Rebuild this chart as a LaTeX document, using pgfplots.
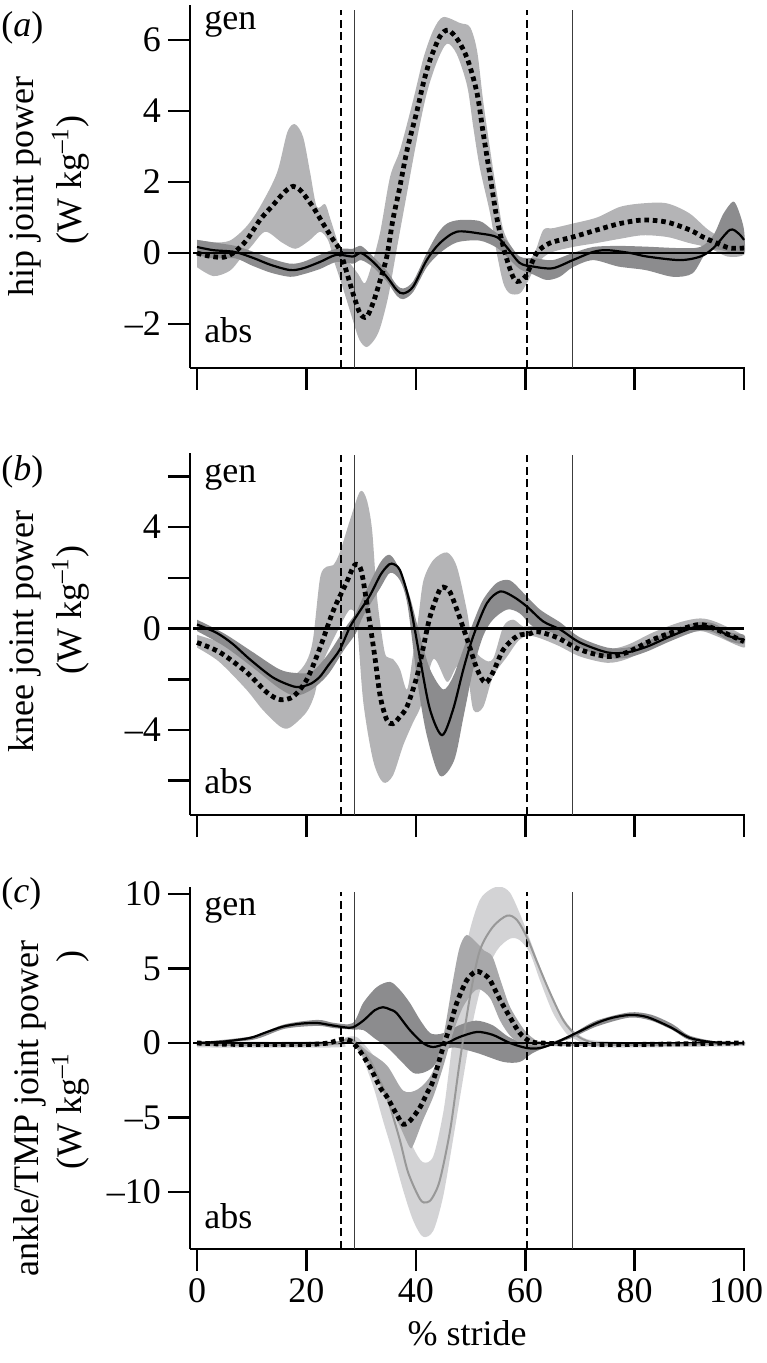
\documentclass[border=0pt]{standalone}
\usepackage{fontspec}
\setmainfont{Liberation Serif}
\usepackage{pgfplots}
\pgfplotsset{compat=1.18}
\definecolor{bandL}{RGB}{180,180,182}
\definecolor{bandD}{RGB}{140,140,142}
\definecolor{bandLL}{RGB}{211,211,213}
\definecolor{bandM}{RGB}{168,168,170}
\definecolor{grayline}{RGB}{152,152,152}
\definecolor{vline}{RGB}{60,60,60}
\newcommand{\fs}{\fontsize{18}{21}\selectfont}
\pgfplotsset{
  panel/.style={
    scale only axis, width=277.5pt,
    xmin=-1.28, xmax=100.18,
    axis x line*=bottom, axis y line*=left,
    axis line style={line width=1.3pt,-},
    xtick={0,20,40,60,80,100},
    tick align=outside, major tick length=11pt,
    tick style={line width=1.3pt, black},
    tick label style={font=\fs},
    /pgf/number format/assume math mode=true,
  },
  dotline/.style={black, line width=2.4pt, dash pattern=on 2.3pt off 1.9pt, smooth, tension=0.5},
  solidline/.style={black, line width=1.1pt, smooth, tension=0.5},
  grline/.style={grayline, line width=1.0pt, smooth, tension=0.5},
  bnd/.style={draw=none, fill=#1, smooth, tension=0.5},
  zeroline/.style={black, line width=1.3pt},
  vdash/.style={black, line width=0.7pt, dash pattern=on 4pt off 2.3pt},
  vsolid/.style={vline, line width=0.7pt},
}
\begin{document}
\begin{tikzpicture}
\path[use as bounding box] (0,0) rectangle (383pt,-681.5pt);

% ---------------- panel (a) ----------------
\begin{axis}[panel, at={(95pt,-2.5pt)}, anchor=north west, height=181.5pt,
  ymin=-3.24, ymax=6.99, ytick={-2,0,2,4,6}, yticklabels={–2,0,2,4,6},
  xticklabels={}]
\addplot[bnd=bandL] coordinates {(0,0.37) (3,0.3) (6,0.35) (9,0.74) (11.5,1.3) (14.6,2.25) (16.5,3.4) (17.9,3.63) (19.4,3.27) (20.7,2.25) (21.9,1.3) (23.4,1.38) (24.3,1.0) (25.6,0.37) (26.7,-0.1) (28,-0.3) (29.5,-0.6) (30.7,-0.85) (32,-0.3) (33.5,0.6) (35.3,2.15) (37.1,2.9) (39.5,4.3) (41.4,5.5) (43.2,6.28) (45,6.65) (48.1,6.48) (49.9,6.37) (51.2,5.7) (52.3,4.3) (53.6,2.9) (54.8,1.7) (56,0.65) (58.1,0.0) (59.9,-0.3) (61.7,0.0) (63.3,0.65) (65.1,0.7) (68.7,0.83) (73.1,1.0) (77.3,1.3) (81.5,1.4) (85.9,1.4) (90,1.12) (93.5,0.65) (97,0.35) (100,0.3)
 (100,-0.05) (97,-0.1) (93.5,0.15) (90,0.28) (86,0.45) (81.5,0.5) (77.3,0.4) (73,0.28) (68.7,0.17) (64.5,0.0) (62.2,-0.3) (60.3,-0.85) (59,-1.14) (57.2,-1.14) (56,-0.85) (54.8,0) (53.6,1.1) (51.7,2.4) (50.5,3.55) (49.4,4.7) (47.5,5.6) (45.7,5.9) (43.9,5.4) (42,4.5) (40.2,3.2) (38.4,1.7) (36.5,0.1) (35,-1.2) (33.5,-2.1) (32.4,-2.45) (31,-2.65) (29.7,-2.45) (28.5,-1.9) (26.7,-1.0) (25,-0.2) (24,0.35) (22.5,0.6) (20.5,0.35) (18,0.12) (15.5,0.3) (12.5,0.6) (10,0.2) (8,-0.15) (6,-0.5) (3,-0.65) (0,-0.4)};
\addplot[bnd=bandD] coordinates {(0,0.37) (3,0.3) (7,0.2) (10,0.05) (13.4,-0.15) (17,-0.3) (19.4,-0.25) (22.5,-0.05) (25.5,0.12) (28.5,0.12) (30,0.2) (32.2,-0.1) (34.7,-0.5) (36.5,-0.9) (37.7,-1.0) (39.5,-0.8) (42,0.0) (44,0.55) (45.7,0.83) (48,0.93) (51.7,0.9) (54,0.65) (56.6,0.35) (59,-0.1) (62,-0.15) (65,-0.2) (68.7,0.0) (72.4,0.17) (77,0.2) (82,0.18) (88,0.14) (92,0.17) (94.4,0.5) (96.2,1.1) (98,1.45) (99,1.2) (100,0.65)
 (100,0.0) (98,0.0) (95,0.1) (93,0.0) (90.6,-0.57) (87,-0.67) (82,-0.48) (77,-0.38) (72.4,-0.2) (68.7,-0.4) (66.3,-0.67) (63.9,-0.76) (61.4,-0.6) (59,-0.45) (56.6,-0.1) (54.8,0.15) (51.7,0.35) (47.5,0.3) (44.4,0.0) (42,-0.4) (39.5,-1.1) (37.7,-1.3) (36.5,-1.2) (34.7,-0.8) (32.2,-0.4) (30,-0.2) (28.5,-0.3) (25.5,-0.25) (22.5,-0.45) (19.4,-0.6) (17,-0.67) (13.4,-0.55) (10,-0.35) (7,-0.15) (3,-0.15) (0,-0.05)};
\addplot[zeroline] coordinates {(-0.7,0) (100,0)};
\addplot[vdash] coordinates {(26.3,-3.24) (26.3,6.85)};
\addplot[vsolid] coordinates {(28.8,-3.24) (28.8,6.85)};
\addplot[vdash] coordinates {(60.3,-3.24) (60.3,6.85)};
\addplot[vsolid] coordinates {(68.6,-3.24) (68.6,6.85)};
\addplot[solidline] coordinates {(0,0.17) (3,0.08) (6.9,0.03) (10.3,-0.14) (13.4,-0.33) (17,-0.48) (19.4,-0.43) (22.5,-0.25) (25.5,-0.05) (28.5,-0.1) (30,0.0) (32.2,-0.25) (34.7,-0.67) (36.5,-1.04) (37.7,-1.14) (39.5,-0.95) (42,-0.2) (44.4,0.28) (47.5,0.6) (51.7,0.55) (54.8,0.45) (56.6,0.17) (59,-0.28) (61.4,-0.38) (65,-0.43) (68.7,-0.2) (72.4,0.03) (75,0.08) (79.2,0.0) (82.3,-0.1) (88.3,-0.2) (92,-0.1) (94.4,0.14) (97.4,0.65) (99,0.55) (100,0.37)};
\addplot[dotline] coordinates {(0,0.0) (2,-0.08) (4.8,-0.12) (6.9,0.03) (9.1,0.37) (11.5,0.93) (13.9,1.35) (16,1.72) (17.6,1.88) (19,1.75) (21.2,1.3) (23,0.84) (24.9,0.37) (26.1,0.08) (27.4,-0.56) (28.5,-1.13) (29.8,-1.7) (31,-1.8) (32.2,-1.4) (33.5,-0.76) (34.7,-0.1) (35.8,0.93) (37,1.8) (38.4,2.9) (40.2,4.0) (41.4,4.8) (42.6,5.44) (44.4,6.1) (45.9,6.28) (47.7,6.0) (49.5,5.44) (51.2,4.5) (52.3,3.4) (53.6,2.15) (54.8,1.0) (56.3,0) (58.1,-0.76) (60,-0.67) (62.1,0) (64.5,0.28) (68.7,0.45) (73.1,0.65) (77.3,0.83) (81.5,0.93) (85.9,0.87) (90.1,0.65) (92.5,0.45) (95,0.28) (97.4,0.14) (100,0.14)};
\end{axis}

% ---------------- panel (b) ----------------
\begin{axis}[panel, at={(95pt,-226.5pt)}, anchor=north west, height=181pt,
  ymin=-7.35, ymax=6.92, ytick={-6,-4,-2,0,2,4,6}, yticklabels={{},–4,{},0,{},4,{}},
  xticklabels={}]
\addplot[bnd=bandL] coordinates {(0,-0.25) (5,-0.6) (10,-1.1) (15,-1.9) (18,-1.8) (20,-1.3) (21.2,-0.43) (22.5,2.0) (23.7,2.44) (24.9,2.5) (26.1,3.0) (28,4.3) (29.8,5.4) (31,5.1) (32,3.9) (32.9,1.26) (34,-0.55) (34.6,-1.1) (35.8,-1.2) (37.1,-1.6) (38.4,-2.4) (39.5,-1.0) (40.5,0.5) (41.4,1.9) (43.2,2.7) (45.7,3.0) (47.5,2.44) (49.3,0.75) (50.5,-0.7) (52.3,-1.2) (54.1,-1.2) (56,0.08) (57.8,0.35) (59.6,0.08) (61.4,0.1) (65.8,-0.05) (70,-0.55) (75,-0.8) (78.6,-0.65) (83.4,-0.15) (88.3,0.25) (92,0.4) (95,0.25) (100,-0.3)
 (100,-0.75) (95,-0.3) (92,-0.1) (88.3,-0.3) (83.4,-0.7) (78.6,-1.2) (75,-1.35) (70,-1.1) (65.8,-0.65) (61.4,-0.3) (59,-0.43) (56.7,-1.1) (54.1,-1.9) (52.3,-3.1) (50.5,-3.2) (49.3,-1.6) (47.5,-1.5) (45.7,-2.1) (43.2,-1.2) (41,-3.0) (39.5,-3.7) (37.7,-4.6) (35.8,-5.8) (34,-6.06) (32.2,-5.2) (30.4,-2.9) (29.2,0.24) (28,0.75) (26.1,0.08) (24.3,-0.7) (22.5,-1.6) (21.5,-2.6) (20,-3.3) (17,-3.9) (15.2,-3.86) (12,-3.2) (9,-2.4) (4,-1.3) (0,-0.75)};
\addplot[bnd=bandD] coordinates {(0,0.35) (5,-0.2) (10,-0.9) (15,-1.6) (18,-1.75) (21,-1.7) (24,-1.0) (27,0.0) (29,0.6) (30.4,1.26) (33.5,2.6) (35.3,2.9) (37.1,2.3) (38.9,1.26) (40.8,-0.3) (42.6,-1.6) (45,-2.4) (46.8,-1.9) (48.7,-0.8) (50.5,0.24) (52.3,1.14) (54.8,1.8) (57.2,1.9) (59.6,1.42) (62.7,0.75) (66.4,0.24) (70,-0.35) (75,-0.75) (78.6,-0.75) (82.3,-0.5) (86.5,-0.1) (91.4,0.25) (94.4,0.2) (97.4,-0.15) (100,-0.25)
 (100,-0.6) (97.4,-0.5) (94.4,-0.15) (91.4,-0.1) (86.5,-0.5) (82.3,-0.9) (78.6,-1.15) (75,-1.15) (70,-0.75) (65,-0.16) (61.4,0.08) (59,0.6) (56.7,0.75) (54.1,0.35) (52.3,-0.3) (50.5,-1.6) (48.7,-3.5) (47,-5.2) (44.4,-5.8) (42,-4.2) (40.3,-2.1) (38.5,0.9) (37.1,1.9) (35.3,2.2) (33.5,1.6) (30.4,0.5) (29,-0.2) (27,-0.8) (24,-1.8) (21,-2.4) (18,-2.65) (15,-2.35) (10,-1.5) (5,-0.7) (0,-0.1)};
\addplot[zeroline] coordinates {(-0.7,0) (100,0)};
\addplot[vdash] coordinates {(26.3,-7.35) (26.3,6.84)};
\addplot[vsolid] coordinates {(28.8,-7.35) (28.8,6.84)};
\addplot[vdash] coordinates {(60.3,-7.35) (60.3,6.84)};
\addplot[vsolid] coordinates {(68.6,-7.35) (68.6,6.84)};
\addplot[solidline] coordinates {(0,0.16) (3.6,-0.17) (6.5,-0.6) (9.7,-1.22) (13.9,-1.93) (17.6,-2.28) (19.3,-2.28) (21,-2.15) (22.5,-1.89) (24,-1.45) (26.1,-0.83) (28,0.08) (29.8,0.7) (31.6,1.3) (33.5,2.1) (34.7,2.44) (35.6,2.56) (37.1,2.3) (38.9,1.0) (40.8,-1.22) (42.6,-3.2) (44.8,-4.2) (46.8,-3.2) (48.7,-1.6) (50.5,-0.3) (53,1.0) (55.4,1.46) (57.8,1.26) (60.3,0.87) (63.3,0.28) (66.4,-0.04) (70,-0.55) (75,-0.94) (78.6,-0.94) (82.3,-0.71) (86.5,-0.31) (91.4,0.08) (94.4,0.04) (97.4,-0.31) (100,-0.43)};
\addplot[dotline] coordinates {(0,-0.55) (4.2,-0.94) (9.1,-1.73) (12.8,-2.52) (15.2,-2.8) (17.6,-2.68) (20.1,-2.0) (22.5,-0.75) (24.9,0.7) (27.3,1.8) (28.8,2.5) (30,2.3) (31.3,0.63) (32.5,-1.1) (33.5,-2.68) (34.7,-3.6) (35.8,-3.75) (37,-3.5) (38.4,-3.07) (40.2,-1.89) (41.4,-0.71) (42.6,0.47) (44.4,1.54) (45.5,1.6) (46.3,1.42) (47.5,0.75) (49.4,-0.43) (51.2,-1.6) (52.7,-2.13) (54.1,-1.73) (56,-0.83) (58.5,-0.3) (60.9,-0.2) (62.2,-0.12) (65.8,-0.35) (70,-0.83) (75,-1.1) (78.6,-0.94) (83.4,-0.43) (88.3,-0.04) (92,0.16) (95,-0.04) (100,-0.51)};
\end{axis}

% ---------------- panel (c) ----------------
\begin{axis}[panel, at={(95pt,-443.5pt)}, anchor=north west, height=181pt,
  ymin=-13.83, ymax=10.47, ytick={-10,-5,0,5,10}, yticklabels={–10,–5,0,5,10},
  xticklabels={0,20,40,60,80,{\hspace*{-8pt}100}}]
\addplot[bnd=bandLL] coordinates {(0,0.1) (25,0.1) (27.4,0.4) (29.2,0.4) (31,-0.27) (32.9,-1.2) (34.7,-2.8) (37.1,-4.8) (39.5,-7.0) (41.3,-8.0) (43.2,-7.6) (45,-4.7) (46,-2.0) (47,1.0) (48,4.2) (49.9,7.6) (51.7,9.6) (53.6,10.3) (55.4,10.5) (57.2,10.1) (59,8.7) (60.9,6.9) (62.7,5.1) (65.1,2.9) (67.6,1.34) (69.4,0.67) (72,0.2) (80,0.05) (100,0.05)
 (100,-0.2) (80,-0.3) (72,-0.25) (69.4,0.2) (67.6,0.6) (65.1,2.0) (62.7,4.2) (60.9,6.0) (59,6.9) (57.2,7.0) (54.8,6.2) (52.3,4.2) (50.5,1.54) (48.6,-2.5) (46.8,-6.5) (45,-10.3) (43.2,-12.6) (41.3,-13.0) (39.5,-11.9) (37.7,-9.9) (35.8,-7.4) (34,-5.2) (32.2,-2.9) (30,-0.8) (28.5,0.0) (27,-0.1) (25,-0.3) (0,-0.3)};
\addplot[bnd=bandD] coordinates {(0,0.05) (10,0.45) (16,1.25) (22,1.55) (25,1.35) (28.5,1.34) (30.4,2.7) (32.9,3.76) (35.3,4.1) (37.1,3.56) (38.9,2.7) (40.8,1.54) (42.6,0.67) (44.4,0.6) (46,0.8) (48,1.2) (51,1.5) (54,1.2) (57,0.4) (60,0.0) (63,-0.05) (66,0.2) (69,0.7) (73,1.5) (79,2.05) (83,1.9) (87,1.25) (90,0.5) (95,0.1) (100,0.05)
 (100,-0.05) (95,-0.05) (90,0.2) (87,0.85) (83,1.5) (79,1.7) (73,1.1) (68.6,0.35) (65,-0.1) (61.4,-0.67) (59,-1.27) (56,-1.27) (51.2,-0.67) (47,-0.3) (45,-0.6) (43.2,-1.6) (41.3,-2.0) (39.5,-2.0) (37.1,-1.14) (34.7,-0.27) (32.5,0.3) (30.4,0.87) (28.5,0.9) (25,1.0) (22,1.15) (16,0.95) (10,0.2) (0,-0.05)};
\addplot[bnd=bandM] coordinates {(0,0.05) (25,0.1) (27,0.35) (28.5,0.3) (31,-0.5) (34.7,-1.5) (37.7,-3.2) (40.4,-3.1) (43,-2.0) (45,0.4) (46.8,4.2) (48,6.4) (49.3,7.25) (51.2,6.7) (52.5,6.2) (54,5.8) (55.5,4.2) (57,2.6) (58.5,1.6) (60,0.8) (61.5,0.3) (63,0.1) (70,0.05) (100,0.05)
 (100,-0.1) (70,-0.2) (63,-0.2) (61,-0.15) (59,0.0) (57.2,0.5) (55.4,1.5) (53.6,3.0) (51.7,3.6) (50.5,3.4) (48.6,2.4) (46.8,0.67) (45,-1.6) (43.2,-3.6) (41.3,-5.2) (39.6,-6.8) (38.9,-7.0) (37.1,-5.6) (34.7,-3.8) (31.6,-1.6) (28.5,-0.1) (27,0.1) (25,-0.15) (0,-0.15)};
\addplot[zeroline] coordinates {(-0.7,0) (100,0)};
\addplot[vdash] coordinates {(26.3,-13.83) (26.3,10.15)};
\addplot[vsolid] coordinates {(28.8,-13.83) (28.8,10.15)};
\addplot[vdash] coordinates {(60.3,-13.83) (60.3,10.15)};
\addplot[vsolid] coordinates {(68.6,-13.83) (68.6,10.15)};
\addplot[grline] coordinates {(0,-0.1) (10,-0.15) (20,-0.15) (25,-0.05) (27,0.2) (28.5,0.1) (30,-0.4) (31.6,-1.14) (33,-2.2) (34.7,-3.6) (37,-6.4) (38.6,-8.7) (40.8,-10.5) (42,-10.7) (43,-10.4) (44.4,-9.2) (46.3,-5.8) (48,-1.34) (49.9,3.1) (51.7,6.2) (54.1,7.8) (56.7,8.55) (58.5,8.25) (60.3,7.1) (62.2,5.4) (64.5,3.4) (67,1.5) (69.4,0.5) (72,0.05) (75,-0.1) (80,-0.15) (90,-0.1) (100,-0.05)};
\addplot[solidline] coordinates {(0,0) (5,0.1) (9.7,0.34) (12.5,0.7) (15.7,1.1) (19,1.3) (22,1.34) (24.4,1.2) (27,1.05) (28.5,1.05) (30.4,1.5) (32.5,2.2) (34,2.4) (35.3,2.25) (36.5,2.0) (38.9,0.87) (41.3,0.0) (43.2,-0.27) (45.7,0.0) (48,0.4) (51.2,0.74) (54.1,0.54) (57.2,0.0) (60.3,-0.34) (62.7,-0.34) (65.1,-0.05) (68.6,0.54) (73.1,1.34) (76,1.7) (79.2,1.88) (82.3,1.74) (86.5,1.07) (90.1,0.34) (94.4,0.05) (100,0)};
\addplot[dotline] coordinates {(0,0) (5,-0.08) (10,-0.1) (20,-0.1) (24,0.0) (26.5,0.25) (28,0.15) (29.5,-0.4) (31.6,-1.6) (33.5,-3.0) (34.7,-3.6) (36.5,-4.8) (37.7,-5.45) (39,-5.2) (40.8,-4.3) (42,-3.4) (43.2,-2.5) (45,-0.27) (46.2,1.07) (47.5,2.7) (49.3,4.2) (51,4.8) (52.5,4.6) (53.6,4.2) (55.4,2.9) (57.2,1.74) (59,0.67) (60.9,0.1) (63,0.0) (70,-0.1) (80,-0.1) (90,-0.05) (100,0)};
\end{axis}

% ---------------- text ----------------
\node[anchor=west, inner sep=0pt, font=\fs] at (0.5pt,-14pt) {(\textit{a})};
\node[anchor=west, inner sep=0pt, font=\fs] at (0.5pt,-236pt) {(\textit{b})};
\node[anchor=west, inner sep=0pt, font=\fs] at (0.5pt,-447pt) {(\textit{c})};

\node[anchor=base west, inner sep=0pt, font=\fs] at (102pt,-15pt) {gen};
\node[anchor=base west, inner sep=0pt, font=\fs] at (102pt,-171.5pt) {abs};
\node[anchor=base west, inner sep=0pt, font=\fs] at (102pt,-241pt) {gen};
\node[anchor=base west, inner sep=0pt, font=\fs] at (102pt,-396.5pt) {abs};
\node[anchor=base west, inner sep=0pt, font=\fs] at (102pt,-457.5pt) {gen};
\node[anchor=base west, inner sep=0pt, font=\fs] at (102pt,-614pt) {abs};

\node[rotate=90, anchor=base west, inner sep=0pt, font=\fs] at (16.5pt,-148.5pt) {hip joint power};
\node[rotate=90, anchor=base, inner sep=0pt, font=\fs] at (40.5pt,-90pt) {(W kg\textsuperscript{–1})};
\node[rotate=90, anchor=base west, inner sep=0pt, font=\fs] at (16.5pt,-376.5pt) {knee joint power};
\node[rotate=90, anchor=base, inner sep=0pt, font=\fs] at (40.5pt,-305pt) {(W kg\textsuperscript{–1})};
\node[rotate=90, anchor=base west, inner sep=0pt, font=\fs] at (19pt,-638.5pt) {ankle/TMP joint power};
\node[rotate=90, anchor=base west, inner sep=0pt, font=\fs] at (40.5pt,-585pt) {(W kg\textsuperscript{–1}\hspace{45pt})};

\node[anchor=base, inner sep=0pt, font=\fs] at (233.5pt,-672.5pt) {\% stride};
\end{tikzpicture}
\end{document}
